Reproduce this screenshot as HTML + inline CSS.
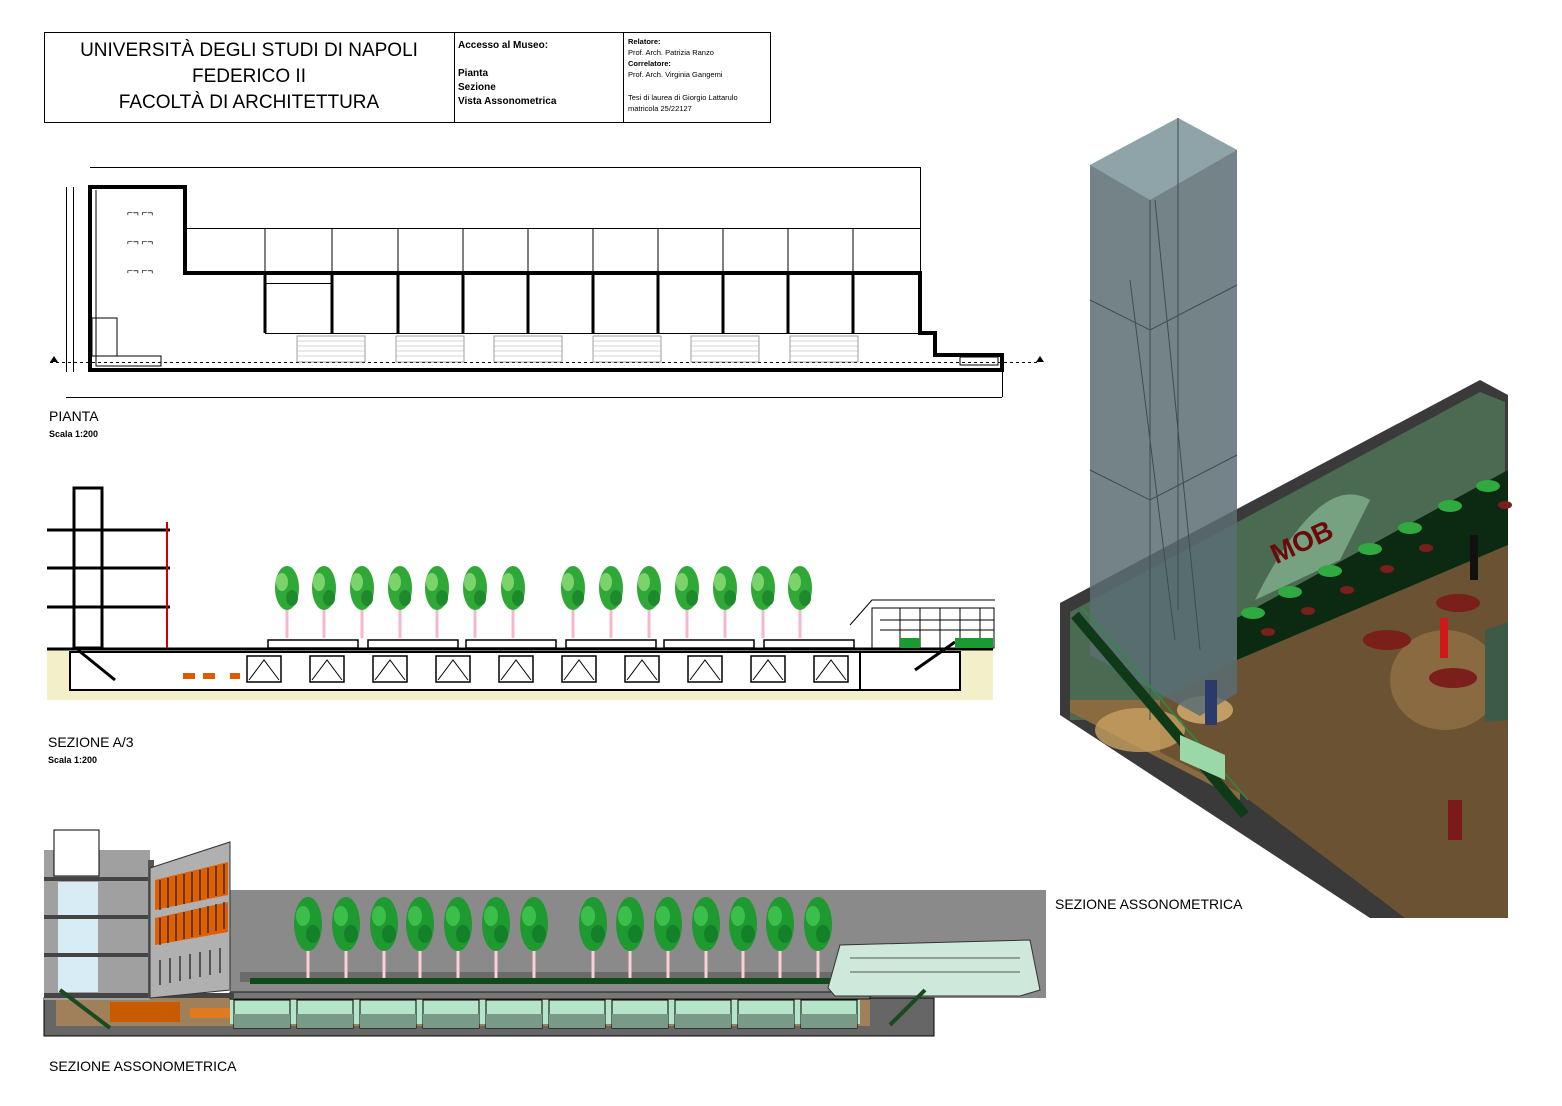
<!DOCTYPE html>
<html><head><meta charset="utf-8"><style>
body{margin:0;background:#fff;}
svg{display:block;font-family:"Liberation Sans",sans-serif;}
</style></head><body>
<svg width="1562" height="1106" viewBox="0 0 1562 1106" xmlns="http://www.w3.org/2000/svg">
<defs>
<g id="tree">
<rect x="-1.5" y="35" width="3" height="35" fill="#f4b8c8"/>
<ellipse cx="0" cy="20" rx="12" ry="22" fill="#2fa838"/>
<ellipse cx="-5" cy="14" rx="6" ry="9" fill="#7bd46a"/>
<ellipse cx="5" cy="30" rx="6" ry="8" fill="#1e8a2c"/>
</g>
<g id="bay">
<rect x="0" y="0" width="34" height="26" fill="none" stroke="#000" stroke-width="1.5"/>
<path d="M2 24 L17 4 L32 24" fill="none" stroke="#000"/>
</g>
<g id="tree2">
<rect x="-1.5" y="40" width="3" height="38" fill="#f8d0d8"/>
<ellipse cx="0" cy="24" rx="14" ry="27" fill="#1f9a30"/>
<ellipse cx="-5" cy="16" rx="7" ry="10" fill="#3cbf4a"/>
<ellipse cx="5" cy="34" rx="7" ry="9" fill="#15802a"/>
</g>
<g id="win">
<rect x="0" y="0" width="56" height="28" fill="#b5e5c8" stroke="#000"/>
<rect x="0" y="14" width="56" height="14" fill="#7a9a88"/>
</g>
</defs>
<rect width="1562" height="1106" fill="#fff"/>
<!-- title block -->
<rect x="44.5" y="32.5" width="726" height="90" fill="none" stroke="#000"/>
<line x1="454.5" y1="32" x2="454.5" y2="122" stroke="#000"/>
<line x1="623.5" y1="32" x2="623.5" y2="122" stroke="#000"/>
<text x="249" y="56" font-size="19" text-anchor="middle">UNIVERSITÀ DEGLI STUDI DI NAPOLI</text>
<text x="249" y="82" font-size="19" text-anchor="middle">FEDERICO II</text>
<text x="249" y="108" font-size="19" text-anchor="middle">FACOLTÀ DI ARCHITETTURA</text>
<g font-size="10" font-weight="bold">
<text x="458" y="48">Accesso al Museo:</text>
<text x="458" y="76">Pianta</text>
<text x="458" y="90">Sezione</text>
<text x="458" y="104">Vista Assonometrica</text>
</g>
<g font-size="7.5">
<text x="628" y="44" font-weight="bold">Relatore:</text>
<text x="628" y="55">Prof. Arch. Patrizia Ranzo</text>
<text x="628" y="66" font-weight="bold">Correlatore:</text>
<text x="628" y="77">Prof. Arch. Virginia Gangemi</text>
<text x="628" y="100">Tesi di laurea di Giorgio Lattarulo</text>
<text x="628" y="111">matricola 25/22127</text>
</g>
<!-- PIANTA -->
<g fill="none" stroke="#000">
<line x1="90" y1="167.5" x2="920" y2="167.5" stroke-width="1"/>
<line x1="920.5" y1="167" x2="920.5" y2="228"/>
<line x1="66" y1="397.5" x2="1002" y2="397.5"/>
<line x1="1002.5" y1="370" x2="1002.5" y2="397"/>
<line x1="66.5" y1="187" x2="66.5" y2="372"/>
<line x1="73.5" y1="187" x2="73.5" y2="372"/>
<line x1="50" y1="362.5" x2="1040" y2="362.5" stroke-dasharray="3,3"/>
<rect x="185.5" y="228.5" width="735" height="45"/>
<path d="M90 187 H185 V273 H920 V333 H935 V355 H1002 V370 H90 Z" stroke-width="4"/>
<path d="M265 273 V333 M332 273 V333 M398 273 V333 M463 273 V333 M528 273 V333 M593 273 V333 M658 273 V333 M723 273 V333 M788 273 V333 M853 273 V333" stroke-width="3"/>
<path d="M265 228 V273 M332 228 V273 M398 228 V273 M463 228 V273 M528 228 V273 M593 228 V273 M658 228 V273 M723 228 V273 M788 228 V273 M853 228 V273"/>
<line x1="265" y1="333.5" x2="920" y2="333.5"/>
<line x1="265" y1="283.5" x2="332" y2="283.5"/>
<line x1="96" y1="190" x2="96" y2="366"/>
<rect x="92" y="318" width="25" height="38"/>
<rect x="96" y="356" width="65" height="10"/>
<rect x="960" y="357" width="38" height="8"/>
</g>
<g fill="#fff" stroke="#777" stroke-width="0.7">
<rect x="297" y="336" width="68" height="26"/><rect x="396" y="336" width="68" height="26"/>
<rect x="494" y="336" width="68" height="26"/><rect x="593" y="336" width="68" height="26"/>
<rect x="691" y="336" width="68" height="26"/><rect x="790" y="336" width="68" height="26"/>
</g>
<g stroke="#aaa" stroke-width="0.5">
<path d="M297 341H365M297 346H365M297 351H365M297 356H365M396 341H464M396 346H464M396 351H464M396 356H464M494 341H562M494 346H562M494 351H562M494 356H562M593 341H661M593 346H661M593 351H661M593 356H661M691 341H759M691 346H759M691 351H759M691 356H759M790 341H858M790 346H858M790 351H858M790 356H858"/>
</g>
<g font-size="10" fill="#000">
<text x="127" y="216">⌐¬ ⌐¬</text><text x="127" y="245">⌐¬ ⌐¬</text><text x="127" y="274">⌐¬ ⌐¬</text>
</g>
<path d="M50 362 l4 -6 l4 6 z M1036 362 l4 -6 l4 6 z" fill="#000"/>
<text x="49" y="421" font-size="14">PIANTA</text>
<text x="49" y="437" font-size="9" font-weight="bold">Scala 1:200</text>
<!-- SEZIONE A/3 -->
<rect x="47" y="648" width="946" height="52" fill="#f3efc8"/>
<rect x="70" y="652" width="790" height="38" fill="#fff" stroke="#000" stroke-width="2"/>
<rect x="860" y="652" width="100" height="38" fill="#fff" stroke="#000" stroke-width="2"/>
<line x1="47" y1="649" x2="993" y2="649" stroke="#000" stroke-width="3"/>
<g fill="none" stroke="#000" stroke-width="3">
<rect x="74" y="488" width="28" height="160" stroke-width="3"/>
<line x1="47" y1="530" x2="170" y2="530"/><line x1="47" y1="568" x2="170" y2="568"/><line x1="47" y1="607" x2="170" y2="607"/>
<line x1="167" y1="522" x2="167" y2="648" stroke="#c00" stroke-width="2"/>
</g>
<g transform="translate(247,656)">
<use href="#bay"/><use href="#bay" x="63"/><use href="#bay" x="126"/><use href="#bay" x="189"/><use href="#bay" x="252"/><use href="#bay" x="315"/><use href="#bay" x="378"/><use href="#bay" x="441"/><use href="#bay" x="504"/><use href="#bay" x="567"/>
</g>
<g fill="#fff" stroke="#000" stroke-width="1.5">
<rect x="268" y="640" width="90" height="8"/><rect x="368" y="640" width="90" height="8"/><rect x="466" y="640" width="90" height="8"/><rect x="566" y="640" width="90" height="8"/><rect x="664" y="640" width="90" height="8"/><rect x="764" y="640" width="90" height="8"/>
</g>
<g transform="translate(0,568)">
<use href="#tree" x="287"/><use href="#tree" x="324"/><use href="#tree" x="362"/><use href="#tree" x="400"/><use href="#tree" x="437"/><use href="#tree" x="475"/><use href="#tree" x="513"/>
<use href="#tree" x="573"/><use href="#tree" x="611"/><use href="#tree" x="649"/><use href="#tree" x="687"/><use href="#tree" x="725"/><use href="#tree" x="763"/><use href="#tree" x="800"/>
</g>
<g fill="none" stroke="#000" stroke-width="1">
<rect x="872" y="608" width="122" height="40"/>
<path d="M850 625 L872 600 L995 600"/>
<path d="M880 620 H994 M880 630 H994 M900 608 V648 M920 608 V648 M940 608 V648 M960 608 V648 M980 608 V648"/>
<path d="M915 670 L955 642" stroke-width="3"/>
<path d="M78 650 L115 680" stroke-width="3"/>
</g>
<rect x="900" y="638" width="20" height="10" fill="#1a9a30"/><rect x="955" y="638" width="38" height="10" fill="#1a9a30"/>
<g fill="#e05a00"><rect x="183" y="673" width="12" height="6"/><rect x="203" y="673" width="12" height="6"/><rect x="230" y="673" width="10" height="6"/></g>
<text x="48" y="747" font-size="14">SEZIONE A/3</text>
<text x="48" y="763" font-size="9" font-weight="bold">Scala 1:200</text>
<!-- bottom axonometric -->
<rect x="230" y="890" width="816" height="108" fill="#8a8a8a"/>
<rect x="240" y="972" width="600" height="10" fill="#6b6b6b"/>
<rect x="250" y="978" width="590" height="6" fill="#0f4a1a"/>
<rect x="44" y="998" width="890" height="38" fill="#666" stroke="#000"/>
<rect x="56" y="998" width="814" height="28" fill="#a08058"/>
<rect x="230" y="1000" width="630" height="24" fill="#b5e5c8"/>
<g transform="translate(234,1000)"><use href="#win"/><use href="#win" x="63"/><use href="#win" x="126"/><use href="#win" x="189"/><use href="#win" x="252"/><use href="#win" x="315"/><use href="#win" x="378"/><use href="#win" x="441"/><use href="#win" x="504"/><use href="#win" x="567"/></g>
<rect x="230" y="992" width="640" height="7" fill="#777" stroke="#000" stroke-width="0.8"/>
<!-- left building -->
<rect x="44" y="850" width="106" height="150" fill="#a0a0a0"/>
<g fill="#444"><rect x="44" y="877" width="106" height="4"/><rect x="44" y="915" width="106" height="4"/><rect x="44" y="953" width="106" height="4"/><rect x="44" y="993" width="190" height="5"/></g>
<rect x="58" y="882" width="40" height="110" fill="#d8ecf5"/>
<g fill="#444"><rect x="58" y="915" width="40" height="4"/><rect x="58" y="953" width="40" height="4"/></g>
<rect x="54" y="830" width="45" height="46" fill="#fff" stroke="#000"/>
<rect x="148" y="860" width="6" height="138" fill="#555"/>
<polygon points="150,868 230,842 230,990 150,998" fill="#b0b0b0" stroke="#333"/>
<g fill="#e06000"><polygon points="155,880 228,862 228,895 155,910"/><polygon points="155,918 228,902 228,932 155,945"/></g>
<g stroke="#222" stroke-width="1.3"><path d="M160 880V910M168 878V908M176 876V906M184 874V904M192 872V902M200 870V900M208 868V898M216 866V896M224 864V894M160 918V945M168 916V943M176 914V941M184 912V939M192 910V937M200 908V935M208 906V933M216 904V931M224 902V929M160 960V985M170 958V983M180 956V981M190 954V979M200 952V977M210 950V975M220 948V973"/></g>
<g transform="translate(0,900)">
<use href="#tree2" x="308"/><use href="#tree2" x="346"/><use href="#tree2" x="384"/><use href="#tree2" x="420"/><use href="#tree2" x="458"/><use href="#tree2" x="496"/><use href="#tree2" x="534"/>
<use href="#tree2" x="593"/><use href="#tree2" x="630"/><use href="#tree2" x="668"/><use href="#tree2" x="706"/><use href="#tree2" x="743"/><use href="#tree2" x="780"/><use href="#tree2" x="818"/>
</g>
<polygon points="828,988 840,945 1030,940 1040,990 1020,996 835,996" fill="#cfe8dc" stroke="#333"/>
<path d="M850 958 H1020 M850 972 H1020" stroke="#555"/>
<path d="M60 990 L110 1028 M890 1025 L925 990" stroke="#1a4a20" stroke-width="4"/>
<rect x="110" y="1002" width="70" height="20" fill="#c85a00"/>
<rect x="190" y="1008" width="40" height="10" fill="#e07a20"/>
<text x="49" y="1071" font-size="14">SEZIONE ASSONOMETRICA</text>
<!-- right render -->
<polygon points="1060,603 1480,380 1508,395 1508,918 1370,918 1060,715" fill="#3a3a3a"/>
<polygon points="1070,612 1480,392 1505,402 1505,720 1070,720" fill="#4a6a52"/>
<polygon points="1237,618 1508,470 1508,545 1237,660" fill="#0c2a12"/>
<polygon points="1237,660 1508,545 1508,918 1405,918 1240,793 1160,752 1160,700" fill="#6b5233"/>
<polygon points="1070,700 1160,700 1160,752 1240,793 1240,800 1070,712" fill="#8a6a40"/>
<ellipse cx="1140" cy="730" rx="45" ry="22" fill="#c8a060" opacity="0.8"/>
<ellipse cx="1205" cy="710" rx="28" ry="14" fill="#d8b070" opacity="0.8"/>
<ellipse cx="1445" cy="680" rx="55" ry="50" fill="#8a6a40"/>
<polygon points="1485,630 1508,622 1508,720 1485,722" fill="#3d5a46"/>
<path d="M1255 600 Q1320 470 1370 500 L1340 560 Z" fill="#9ad0a8" opacity="0.55"/>
<text x="1268" y="552" font-size="28" font-weight="bold" fill="#6a0a0a" transform="rotate(-25 1300 540)">MOB</text>
<g fill="#2faa40"><ellipse cx="1253" cy="613" rx="12" ry="6"/><ellipse cx="1290" cy="592" rx="12" ry="6"/><ellipse cx="1330" cy="571" rx="12" ry="6"/><ellipse cx="1370" cy="549" rx="12" ry="6"/><ellipse cx="1410" cy="528" rx="12" ry="6"/><ellipse cx="1450" cy="506" rx="12" ry="6"/><ellipse cx="1488" cy="486" rx="12" ry="6"/></g>
<g fill="#7a1f1a"><ellipse cx="1268" cy="632" rx="7" ry="4"/><ellipse cx="1308" cy="611" rx="7" ry="4"/><ellipse cx="1347" cy="590" rx="7" ry="4"/><ellipse cx="1387" cy="569" rx="7" ry="4"/><ellipse cx="1426" cy="548" rx="7" ry="4"/><ellipse cx="1505" cy="505" rx="7" ry="4"/></g>
<g fill="#7a1f1a"><ellipse cx="1387" cy="640" rx="24" ry="10"/><ellipse cx="1458" cy="603" rx="22" ry="9"/><ellipse cx="1453" cy="678" rx="24" ry="10"/></g>
<rect x="1470" y="535" width="8" height="45" fill="#111"/>
<rect x="1440" y="618" width="8" height="40" fill="#d01818"/>
<polygon points="1090,165 1178,118 1237,150 1237,693 1200,716 1090,655" fill="#5a6d72" opacity="0.85"/>
<polygon points="1090,165 1178,118 1237,150 1150,200" fill="#8fa4a8"/>
<path d="M1150 200 V720 M1178 118 V610 M1090 300 L1150 330 L1237 285 M1090 470 L1150 500 L1237 455 M1130 280 L1175 640 M1155 200 L1200 650" stroke="#3d4d52" fill="none"/>
<path d="M1075 615 L1245 815" stroke="#0f3a18" stroke-width="10"/>
<path d="M1082 608 L1248 800" stroke="#2f8a40" stroke-width="1.5"/>
<polygon points="1180,735 1225,755 1225,780 1180,760" fill="#9ad8a8"/>
<rect x="1205" y="680" width="12" height="45" fill="#2a3a6a"/>
<rect x="1448" y="800" width="14" height="40" fill="#7a1a1a"/>
<text x="1055" y="909" font-size="14">SEZIONE ASSONOMETRICA</text>
</svg>
</body></html>
